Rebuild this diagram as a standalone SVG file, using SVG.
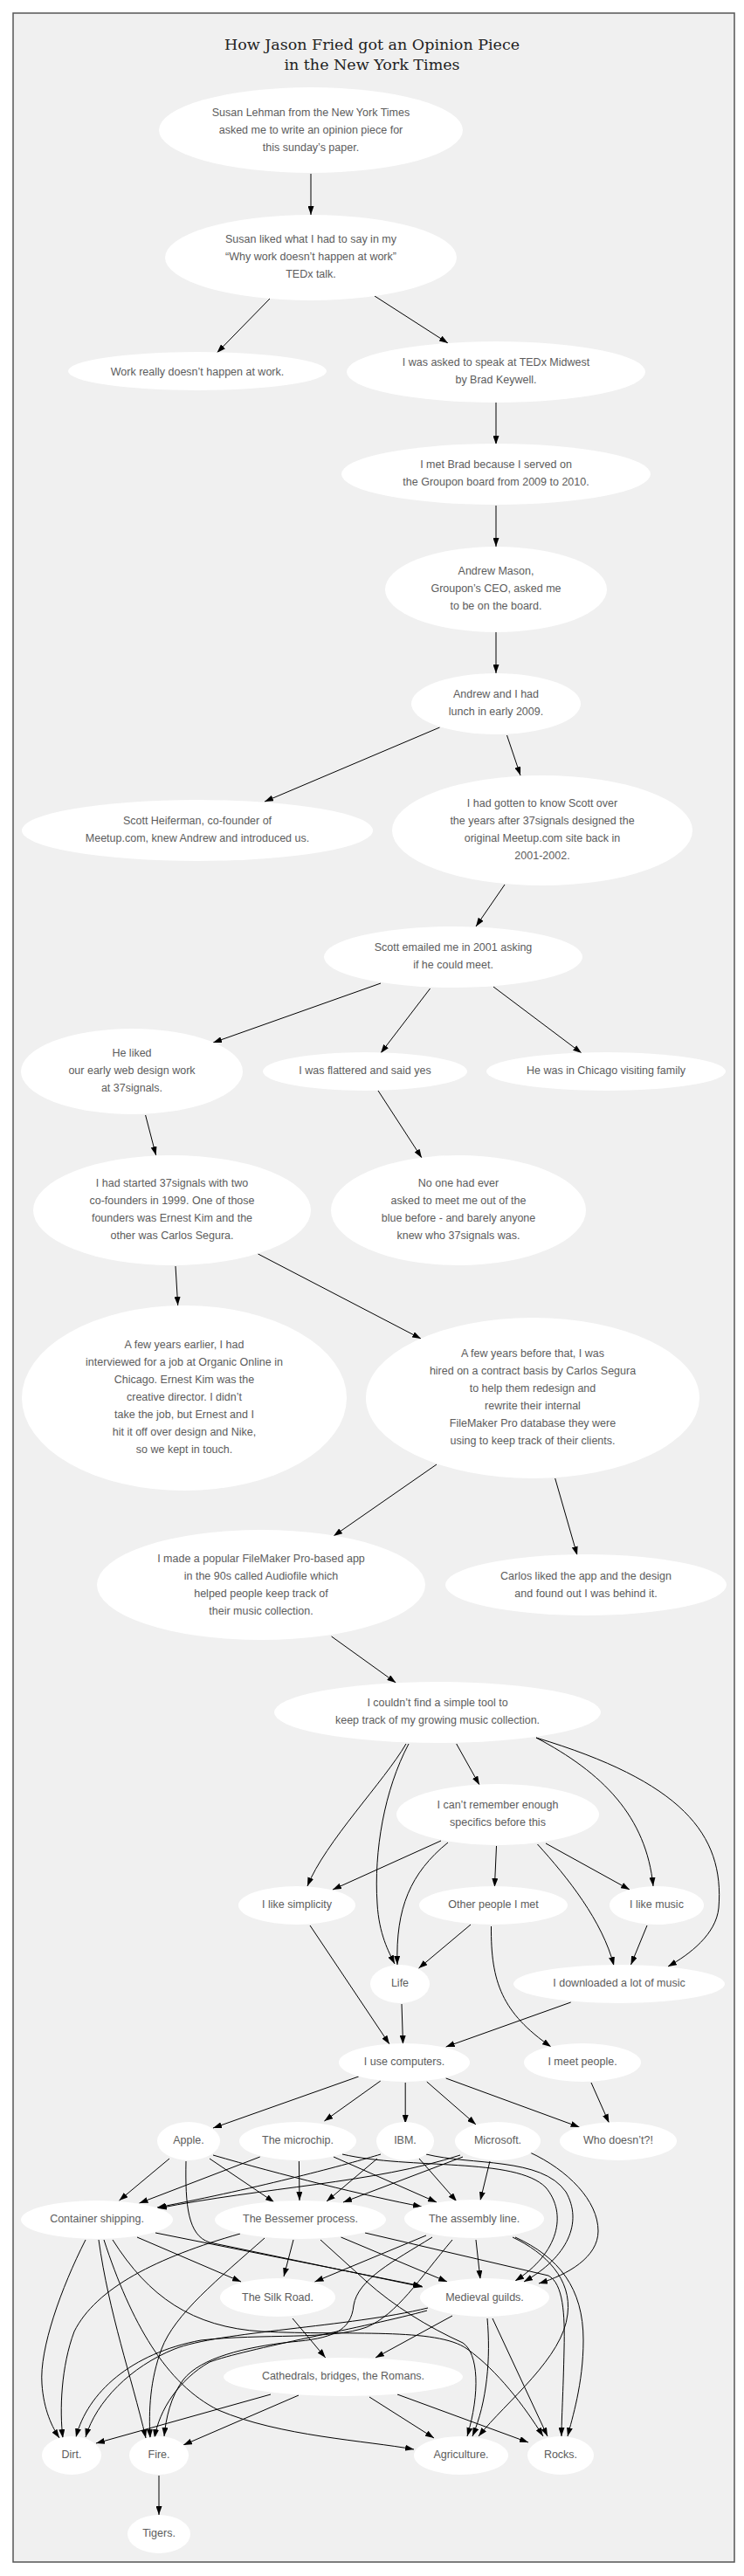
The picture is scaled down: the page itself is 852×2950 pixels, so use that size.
<svg xmlns="http://www.w3.org/2000/svg" width="852" height="2950" viewBox="0 0 852 2950">
<style>
.bg{fill:#f0f0f0;stroke:#555;stroke-width:1.5}
.title{font-family:"DejaVu Serif",serif;font-size:17.5px;fill:#222;text-anchor:middle}
.n ellipse{fill:#fff;stroke:none}
.n text{font-family:"Liberation Sans",Arial,sans-serif;font-size:12.5px;fill:#5c5c5c;text-anchor:middle}
.e path{fill:none;stroke:#000;stroke-width:1;marker-end:url(#ah)}
</style>
<defs>
<marker id="ah" markerUnits="userSpaceOnUse" markerWidth="10" markerHeight="7" refX="10" refY="3.5" orient="auto">
<path d="M0,0 L10,3.5 L0,7 z" fill="#000"/>
</marker>
</defs>
<rect class="bg" x="15" y="15" width="826" height="2919"/>
<text class="title" x="426" y="57">How Jason Fried got an Opinion Piece</text>
<text class="title" x="426" y="80">in the New York Times</text>

<g class="e" id="edges">
<path d="M356,199 L356,246"/>
<path d="M309,342 L248.5,404"/>
<path d="M429,339 L513,393"/>
<path d="M568,461 L568,509"/>
<path d="M568,579 L568,626"/>
<path d="M568,724 L568,771"/>
<path d="M503.5,833 L303,918"/>
<path d="M580.5,842 L596,888"/>
<path d="M578,1013 L545,1061"/>
<path d="M436,1126 L244,1194"/>
<path d="M492.6,1132 L436,1206"/>
<path d="M565,1130 L666,1206"/>
<path d="M166.6,1277 L178.6,1323"/>
<path d="M433,1249 L483,1326"/>
<path d="M201,1450 L203.7,1495"/>
<path d="M295.5,1436 L482,1533"/>
<path d="M500,1677 L382,1759"/>
<path d="M635.7,1693 L661,1781"/>
<path d="M379.6,1874 L453.3,1927"/>
<path d="M522.7,1997 L549,2044"/>
<path d="M465,1997 C440,2040 372,2110 352,2160"/>
<path d="M468,1997 C440,2050 428,2120 432,2180 C434,2215 445,2235 452,2249"/>
<path d="M614,1990 C690,2030 740,2080 748,2160"/>
<path d="M614,1990 C780,2040 830,2100 823,2185 C820,2215 790,2238 765,2252"/>
<path d="M505,2108 L381,2164"/>
<path d="M513,2110 C470,2145 453,2185 455,2250"/>
<path d="M568.5,2114 L566.4,2161"/>
<path d="M615.5,2112 C650,2150 690,2200 703,2251"/>
<path d="M625,2111 L721,2164"/>
<path d="M355,2205 L446,2341"/>
<path d="M539,2204 L479.5,2254"/>
<path d="M562.5,2206 C562,2270 575,2305 631,2344"/>
<path d="M741,2205 L722.5,2250"/>
<path d="M460,2295 L461.5,2341"/>
<path d="M653.7,2293 L510.7,2344"/>
<path d="M410.7,2378 L244,2437"/>
<path d="M435.8,2383 L371.4,2429"/>
<path d="M464.2,2385 L464.2,2432"/>
<path d="M488.8,2384 L545,2433"/>
<path d="M510.7,2380 L663.6,2436"/>
<path d="M677,2385 L697.4,2431"/>
<path d="M194,2472 L136.5,2520"/>
<path d="M240,2472 L314,2522"/>
<path d="M244,2468 C320,2490 420,2515 483,2527"/>
<path d="M213,2475 C212,2525 215,2560 240,2568 L484,2619"/>
<path d="M297.7,2470 L159.5,2523"/>
<path d="M342.4,2475 L343,2520"/>
<path d="M382,2470 L500,2522"/>
<path d="M392,2467 C470,2485 590,2470 625,2505 C650,2535 640,2580 590,2612"/>
<path d="M488,2467 C540,2480 620,2470 648,2510 C668,2545 650,2585 600,2613"/>
<path d="M607,2465 C650,2485 685,2520 685,2555 C685,2585 650,2605 617,2615"/>
<path d="M436,2467 C400,2478 300,2505 180,2528"/>
<path d="M527,2468 C430,2500 300,2505 181,2529"/>
<path d="M432,2472 L374,2521"/>
<path d="M530,2470 L393,2522"/>
<path d="M480,2472 L523,2521"/>
<path d="M561,2475 L550,2520"/>
<path d="M157,2562 L276,2613"/>
<path d="M178,2557 L483,2618"/>
<path d="M98,2565 C70,2620 45,2690 48,2730 C50,2760 60,2780 68,2792"/>
<path d="M113,2565 C125,2650 150,2720 167,2792"/>
<path d="M119,2565 C150,2660 190,2730 250,2760 C320,2790 420,2795 474,2805"/>
<path d="M129,2565 C170,2630 220,2665 300,2670 C400,2675 500,2665 535,2690 C570,2715 600,2755 622,2790"/>
<path d="M336,2565 L325,2607"/>
<path d="M390.5,2562 L512,2613"/>
<path d="M275,2558 C180,2585 110,2620 85,2670 C70,2710 68,2760 72,2792"/>
<path d="M303,2563 C250,2610 200,2650 185,2690 C172,2725 170,2760 172,2792"/>
<path d="M367,2565 L420,2613 C450,2640 490,2665 530,2683 C548,2695 550,2740 535,2790"/>
<path d="M418,2557 L628,2606 C645,2615 647,2650 646,2690 C645,2740 643,2770 643,2790"/>
<path d="M488,2560 L360.5,2613"/>
<path d="M545,2565 L550,2610"/>
<path d="M495,2562 C450,2590 410,2610 405,2640 C402,2670 380,2678 333,2682 C280,2688 230,2700 210,2725 C195,2745 190,2770 188,2790"/>
<path d="M518,2565 C480,2610 455,2650 420,2665 C380,2680 300,2672 230,2680 C150,2695 100,2740 87,2791"/>
<path d="M587,2562 C625,2580 655,2610 650,2650 C645,2700 580,2750 548,2790"/>
<path d="M590,2562 C640,2585 668,2620 668,2680 C668,2730 655,2770 650,2790"/>
<path d="M518,2652 L430,2700"/>
<path d="M558,2655 C562,2700 558,2750 541,2790"/>
<path d="M564,2655 L627,2790"/>
<path d="M490,2643 C400,2665 250,2670 200,2690 C150,2710 110,2750 98,2791"/>
<path d="M489,2646 C420,2665 280,2690 240,2705 C205,2725 182,2760 177,2792"/>
<path d="M335,2655 L372.7,2700"/>
<path d="M310,2742 L110,2798"/>
<path d="M342,2743 L210,2800"/>
<path d="M423,2745 L497,2792"/>
<path d="M455,2742 L605,2797"/>
<path d="M182,2835 L182,2880"/>
</g>

<g class="n" id="n1"><ellipse cx="356" cy="149" rx="174" ry="49"/><text x="356" y="132.5">Susan Lehman from the New York Times</text><text x="356" y="152.5">asked me to write an opinion piece for</text><text x="356" y="172.5">this sunday’s paper.</text></g>
<g class="n" id="n2"><ellipse cx="356" cy="295" rx="167" ry="49"/><text x="356" y="277.5">Susan liked what I had to say in my</text><text x="356" y="297.5">“Why work doesn’t happen at work”</text><text x="356" y="317.5">TEDx talk.</text></g>
<g class="n" id="n3"><ellipse cx="226" cy="425" rx="148" ry="22"/><text x="226" y="430">Work really doesn’t happen at work.</text></g>
<g class="n" id="n4"><ellipse cx="568" cy="426" rx="171" ry="35"/><text x="568" y="418.5">I was asked to speak at TEDx Midwest</text><text x="568" y="438.5">by Brad Keywell.</text></g>
<g class="n" id="n5"><ellipse cx="568" cy="543" rx="177" ry="35"/><text x="568" y="535.5">I met Brad because I served on</text><text x="568" y="555.5">the Groupon board from 2009 to 2010.</text></g>
<g class="n" id="n6"><ellipse cx="568" cy="675" rx="127" ry="49"/><text x="568" y="658">Andrew Mason,</text><text x="568" y="678">Groupon’s CEO, asked me</text><text x="568" y="698">to be on the board.</text></g>
<g class="n" id="n7"><ellipse cx="568" cy="806" rx="97" ry="35"/><text x="568" y="798.5">Andrew and I had</text><text x="568" y="818.5">lunch in early 2009.</text></g>
<g class="n" id="n8"><ellipse cx="226" cy="951" rx="201" ry="35"/><text x="226" y="944">Scott Heiferman, co-founder of</text><text x="226" y="964">Meetup.com, knew Andrew and introduced us.</text></g>
<g class="n" id="n9"><ellipse cx="621" cy="951" rx="172" ry="63"/><text x="621" y="924">I had gotten to know Scott over</text><text x="621" y="944">the years after 37signals designed the</text><text x="621" y="964">original Meetup.com site back in</text><text x="621" y="984">2001-2002.</text></g>
<g class="n" id="n10"><ellipse cx="519" cy="1096" rx="148" ry="35"/><text x="519" y="1089">Scott emailed me in 2001 asking</text><text x="519" y="1109">if he could meet.</text></g>
<g class="n" id="n11"><ellipse cx="151" cy="1227" rx="127" ry="49"/><text x="151" y="1209.5">He liked</text><text x="151" y="1229.5">our early web design work</text><text x="151" y="1249.5">at 37signals.</text></g>
<g class="n" id="n12"><ellipse cx="418" cy="1227" rx="117" ry="22"/><text x="418" y="1230">I was flattered and said yes</text></g>
<g class="n" id="n13"><ellipse cx="694" cy="1227" rx="137" ry="22"/><text x="694" y="1230">He was in Chicago visiting family</text></g>
<g class="n" id="n14"><ellipse cx="197" cy="1386" rx="159" ry="63"/><text x="197" y="1358.5">I had started 37signals with two</text><text x="197" y="1378.5">co-founders in 1999. One of those</text><text x="197" y="1398.5">founders was Ernest Kim and the</text><text x="197" y="1418.5">other was Carlos Segura.</text></g>
<g class="n" id="n15"><ellipse cx="525" cy="1386" rx="146" ry="63"/><text x="525" y="1358.5">No one had ever</text><text x="525" y="1378.5">asked to meet me out of the</text><text x="525" y="1398.5">blue before - and barely anyone</text><text x="525" y="1418.5">knew who 37signals was.</text></g>
<g class="n" id="n16"><ellipse cx="211" cy="1601" rx="186" ry="106"/><text x="211" y="1544">A few years earlier, I had</text><text x="211" y="1564">interviewed for a job at Organic Online in</text><text x="211" y="1584">Chicago. Ernest Kim was the</text><text x="211" y="1604">creative director. I didn’t</text><text x="211" y="1624">take the job, but Ernest and I</text><text x="211" y="1644">hit it off over design and Nike,</text><text x="211" y="1664">so we kept in touch.</text></g>
<g class="n" id="n17"><ellipse cx="610" cy="1601" rx="191" ry="92"/><text x="610" y="1554">A few years before that, I was</text><text x="610" y="1574">hired on a contract basis by Carlos Segura</text><text x="610" y="1594">to help them redesign and</text><text x="610" y="1614">rewrite their internal</text><text x="610" y="1634">FileMaker Pro database they were</text><text x="610" y="1654">using to keep track of their clients.</text></g>
<g class="n" id="n18"><ellipse cx="299" cy="1815" rx="188" ry="63"/><text x="299" y="1789">I made a popular FileMaker Pro-based app</text><text x="299" y="1809">in the 90s called Audiofile which</text><text x="299" y="1829">helped people keep track of</text><text x="299" y="1849">their music collection.</text></g>
<g class="n" id="n19"><ellipse cx="671" cy="1815" rx="161" ry="35"/><text x="671" y="1809">Carlos liked the app and the design</text><text x="671" y="1829">and found out I was behind it.</text></g>
<g class="n" id="n20"><ellipse cx="501" cy="1961" rx="187" ry="35"/><text x="501" y="1953.5">I couldn’t find a simple tool to</text><text x="501" y="1973.5">keep track of my growing music collection.</text></g>
<g class="n" id="n21"><ellipse cx="570" cy="2078" rx="116" ry="35"/><text x="570" y="2070.5">I can’t remember enough</text><text x="570" y="2090.5">specifics before this</text></g>
<g class="n" id="n22"><ellipse cx="340" cy="2182" rx="67" ry="22"/><text x="340" y="2184.5">I like simplicity</text></g>
<g class="n" id="n23"><ellipse cx="565" cy="2182" rx="85" ry="22"/><text x="565" y="2184.5">Other people I met</text></g>
<g class="n" id="n24"><ellipse cx="752" cy="2182" rx="54" ry="22"/><text x="752" y="2184.5">I like music</text></g>
<g class="n" id="n25"><ellipse cx="458" cy="2272" rx="34" ry="22"/><text x="458" y="2274.5">Life</text></g>
<g class="n" id="n26"><ellipse cx="709" cy="2272" rx="121" ry="22"/><text x="709" y="2274.5">I downloaded a lot of music</text></g>
<g class="n" id="n27"><ellipse cx="463" cy="2362" rx="75" ry="22"/><text x="463" y="2365">I use computers.</text></g>
<g class="n" id="n28"><ellipse cx="667" cy="2362" rx="67" ry="22"/><text x="667" y="2365">I meet people.</text></g>
<g class="n" id="n29"><ellipse cx="216" cy="2452" rx="36" ry="22"/><text x="216" y="2455">Apple.</text></g>
<g class="n" id="n30"><ellipse cx="341" cy="2452" rx="67" ry="22"/><text x="341" y="2455">The microchip.</text></g>
<g class="n" id="n31"><ellipse cx="464" cy="2452" rx="33" ry="22"/><text x="464" y="2455">IBM.</text></g>
<g class="n" id="n32"><ellipse cx="570" cy="2452" rx="49" ry="22"/><text x="570" y="2455">Microsoft.</text></g>
<g class="n" id="n33"><ellipse cx="708" cy="2452" rx="67" ry="22"/><text x="708" y="2455">Who doesn’t?!</text></g>
<g class="n" id="n34"><ellipse cx="111" cy="2542" rx="87" ry="22"/><text x="111" y="2544.5">Container shipping.</text></g>
<g class="n" id="n35"><ellipse cx="344" cy="2542" rx="98" ry="22"/><text x="344" y="2544.5">The Bessemer process.</text></g>
<g class="n" id="n36"><ellipse cx="543" cy="2541" rx="80" ry="22"/><text x="543" y="2544.5">The assembly line.</text></g>
<g class="n" id="n37"><ellipse cx="318" cy="2631" rx="66" ry="22"/><text x="318" y="2634.5">The Silk Road.</text></g>
<g class="n" id="n38"><ellipse cx="555" cy="2631" rx="74" ry="22"/><text x="555" y="2634.5">Medieval guilds.</text></g>
<g class="n" id="n39"><ellipse cx="393" cy="2722" rx="137" ry="22"/><text x="393" y="2724.5">Cathedrals, bridges, the Romans.</text></g>
<g class="n" id="n40"><ellipse cx="82" cy="2812" rx="34" ry="22"/><text x="82" y="2814.5">Dirt.</text></g>
<g class="n" id="n41"><ellipse cx="182" cy="2812" rx="34" ry="22"/><text x="182" y="2814.5">Fire.</text></g>
<g class="n" id="n42"><ellipse cx="528" cy="2812" rx="54" ry="22"/><text x="528" y="2814.5">Agriculture.</text></g>
<g class="n" id="n43"><ellipse cx="642" cy="2812" rx="38" ry="22"/><text x="642" y="2814.5">Rocks.</text></g>
<g class="n" id="n44"><ellipse cx="182" cy="2902" rx="36" ry="22"/><text x="182" y="2904.5">Tigers.</text></g>
</svg>
